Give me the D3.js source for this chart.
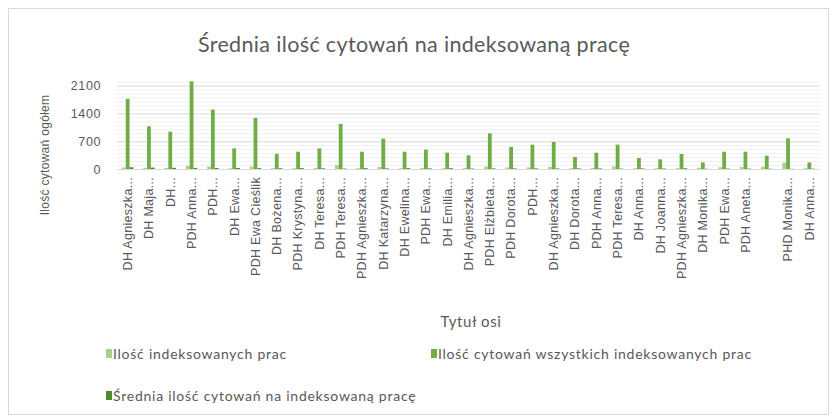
<!DOCTYPE html>
<html><head><meta charset="utf-8">
<script src="https://cdn.jsdelivr.net/npm/d3@7"></script>
<style>body{margin:0;background:#fff;} text{fill:#595959;}</style>
</head><body><svg id="c" width="833" height="419"></svg>
<script>
const categories = ["DH Agnieszka...","DH Maja...","DH...","PDH Anna...","PDH...","DH Ewa...","PDH Ewa Cieślik","DH Bożena...","PDH Krystyna...","DH Teresa...","PDH Teresa...","PDH Agnieszka...","DH Katarzyna...","DH Ewelina...","PDH Ewa...","DH Emilia...","DH Agnieszka...","PDH Elżbieta...","PDH Dorota...","PDH...","DH Agnieszka...","DH Dorota...","PDH Anna...","PDH Teresa...","DH Anna...","DH Joanna...","PDH Agnieszka...","DH Monika...","PDH Ewa...","PDH Aneta...","","PHD Monika...","DH Anna..."];
const papers = [40,30,30,80,60,20,60,20,20,30,100,20,50,20,30,20,30,60,40,40,50,20,30,60,20,20,20,30,45,50,55,160,20];
const citations = [1765,1075,940,2205,1495,520,1285,380,436,520,1135,436,765,436,487,411,343,898,555,613,680,302,411,613,277,242,378,166,436,436,335,772,166];
const averages = [44,36,31,28,25,26,21,19,22,17,11,22,15,22,16,21,11,15,14,15,14,15,14,10,14,12,19,6,10,9,6,5,8];
const yTicks = [0,700,1400,2100];
const seriesNames = ["Ilość indeksowanych prac","Ilość cytowań wszystkich indeksowanych prac","Średnia ilość cytowań na indeksowaną pracę"];
const colors = ["#a9d18e","#70ad47","#4e8a2e"];

const svg = d3.select("#c");
svg.append("rect").attr("x",8.5).attr("y",8.5).attr("width",820).attr("height",406).attr("fill","#fff").attr("stroke","#d9d9d9");

const x = d3.scaleBand().domain(d3.range(categories.length)).range([117,820]);
const y = d3.scaleLinear().domain([0,2200]).range([169,81.6]);
const x1 = d3.scaleBand().domain([0,1,2]).range([0,11.4]);
const groupOff = (x.bandwidth()-11.4)/2;

// minor gridlines
svg.append("g").selectAll("line").data(d3.range(100,2201,100).filter(v=>v%700!==0)).join("line")
  .attr("x1",117).attr("x2",820).attr("y1",d=>y(d)+0.5).attr("y2",d=>y(d)+0.5).attr("stroke","#efefef");
svg.append("g").selectAll("line").data(yTicks.slice(1)).join("line")
  .attr("x1",117).attr("x2",820).attr("y1",d=>y(d)+0.5).attr("y2",d=>y(d)+0.5).attr("stroke","#d9d9d9");

const data = categories.map((c,i)=>[papers[i],citations[i],averages[i]]);
const g = svg.append("g");
g.selectAll("g").data(data).join("g").attr("transform",(d,i)=>`translate(${x(i)+groupOff},0)`)
  .selectAll("rect").data(d=>d).join("rect")
  .attr("x",(d,j)=>x1(j)).attr("width",x1.bandwidth())
  .attr("y",d=>y(d)).attr("height",d=>y(0)-y(d)).attr("fill",(d,j)=>colors[j]);

// baseline
svg.append("line").attr("x1",117).attr("x2",820).attr("y1",y(0)+0.5).attr("y2",y(0)+0.5).attr("stroke","#d9d9d9");

// y axis
const yAxis = d3.axisLeft(y).tickValues(yTicks).tickFormat(d3.format("d")).tickSize(0).tickPadding(0);
const ya = svg.append("g").attr("transform","translate(101,0)").call(yAxis);
ya.select(".domain").remove();
ya.selectAll("text").attr("font-family","Liberation Sans, Arial").attr("font-size",12.5).attr("letter-spacing","0.6px").style("fill","#595959");

// x axis labels
const xAxis = d3.axisBottom(x).tickFormat(i=>categories[i]).tickSize(0).tickPadding(0);
const xa = svg.append("g").attr("transform",`translate(0,${y(0)})`).call(xAxis);
xa.select(".domain").remove();
xa.selectAll("text").attr("font-family","Liberation Sans, Arial").attr("font-size",12.5).attr("letter-spacing","0.3px")
  .attr("text-anchor","end").attr("dy","0.35em").attr("transform","translate(0,8) rotate(-90)").attr("x",0).attr("y",0).style("fill","#595959");

// title
svg.append("text").attr("x",414).attr("y",52).attr("text-anchor","middle").attr("font-family","Lato").attr("font-size",21.5).attr("letter-spacing","0.35px").text("Średnia ilość cytowań na indeksowaną pracę");
// axis titles
svg.append("text").attr("transform","translate(49,155) rotate(-90)").attr("text-anchor","middle").attr("font-family","Liberation Sans, Arial").attr("font-size",12).attr("letter-spacing","0.3px").text("Ilość cytowań ogółem");
svg.append("text").attr("x",471).attr("y",327).attr("text-anchor","middle").attr("font-family","Lato").attr("font-size",15).attr("letter-spacing","0.6px").text("Tytuł osi");

// legend
const legPos = [[106,354],[431,354],[106,396]];
const lg = svg.append("g").selectAll("g").data(seriesNames).join("g").attr("transform",(d,i)=>`translate(${legPos[i][0]},${legPos[i][1]})`);
lg.append("rect").attr("x",0).attr("y",-5).attr("width",6).attr("height",9).attr("fill",(d,i)=>colors[i]);
lg.append("text").attr("x",7).attr("y",0).attr("dy","0.35em").attr("font-family","Lato").attr("font-size",14).attr("letter-spacing","0.75px").text(d=>d);
</script></body></html>
